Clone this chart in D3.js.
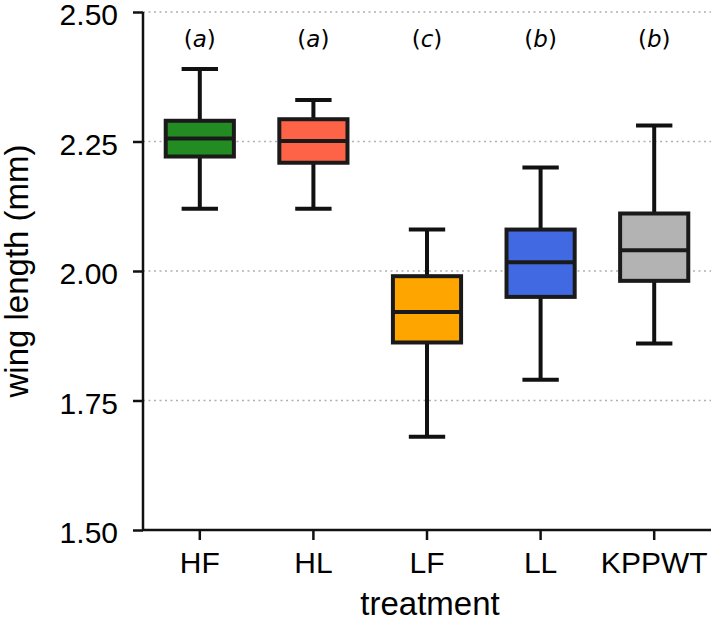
<!DOCTYPE html>
<html>
<head>
<meta charset="utf-8">
<script src="https://cdn.jsdelivr.net/npm/d3@7"></script>
<style>
  body { margin: 0; background: #fff; }
  svg { display: block; }
</style>
</head>
<body>
<div id="plot"></div>
<script>
// data
const treatments = ["HF", "HL", "LF", "LL", "KPPWT"];
const whiskLow  = [2.12, 2.12, 1.68, 1.79, 1.86];
const q1        = [2.221, 2.209, 1.862, 1.950, 1.981];
const medians   = [2.256, 2.251, 1.921, 2.017, 2.040];
const q3        = [2.290, 2.293, 1.990, 2.080, 2.111];
const whiskHigh = [2.39, 2.33, 2.08, 2.20, 2.281];
const groups    = ["a", "a", "c", "b", "b"];
const colors    = ["#228b22", "#ff6347", "#ffa500", "#4169e1", "#b3b3b3"];
const yTicks    = [1.50, 1.75, 2.00, 2.25, 2.50];

const w = 711;
const h = 620;
const margin = {top: 12, right: 0, bottom: 90, left: 143};

const svg = d3.select("#plot")
  .append("svg")
    .attr("width", w)
    .attr("height", h);

const xScale = d3.scaleBand()
    .domain(treatments)
    .range([margin.left, w - margin.right])
    .padding(0);

const yScale = d3.scaleLinear()
    .domain([1.5, 2.5])
    .range([h - margin.bottom, margin.top]);

const bw = xScale.bandwidth();
const boxW = bw * 0.6;
const capW = bw * 0.32;

const boxes = treatments.map((t, i) => ({
  t: t, lo: whiskLow[i], q1: q1[i], med: medians[i], q3: q3[i],
  hi: whiskHigh[i], g: groups[i], color: colors[i]
}));

// grid lines
svg.append("g")
  .selectAll("line")
  .data(yTicks.filter(d => d > 1.5))
  .enter().append("line")
    .attr("x1", margin.left)
    .attr("x2", w)
    .attr("y1", d => yScale(d))
    .attr("y2", d => yScale(d))
    .attr("stroke", "#b0b0b0")
    .attr("stroke-width", 1.6)
    .attr("stroke-dasharray", "2,3.5");

// axes
const yAxis = d3.axisLeft(yScale)
    .tickValues(yTicks)
    .tickFormat(d3.format(".2f"))
    .tickSize(10)
    .tickPadding(15);

const xAxis = d3.axisBottom(xScale)
    .tickSize(10)
    .tickPadding(12);

const yG = svg.append("g")
    .attr("transform", `translate(${margin.left},0)`)
    .call(yAxis);

const xG = svg.append("g")
    .attr("transform", `translate(0,${h - margin.bottom})`)
    .call(xAxis);

[yG, xG].forEach(g => {
  g.select(".domain").attr("stroke", "#111").attr("stroke-width", 2.5);
  g.selectAll(".tick line").attr("stroke", "#111").attr("stroke-width", 2.5);
  g.selectAll(".tick text")
    .attr("fill", "#000")
    .style("font-family", "'Liberation Sans', Arial, sans-serif")
    .style("font-size", "30px");
});
yG.selectAll(".tick text").attr("dy", "0.42em");
// keep the spines flat, no outer ticks
yG.select(".domain").attr("d", `M0,${yScale(2.5)}V${yScale(1.5)}`);
xG.select(".domain").attr("d", `M${margin.left},0H${w}`);

// box plots
const bx = svg.append("g")
  .selectAll("g")
  .data(boxes)
  .enter().append("g")
    .attr("transform", d => `translate(${xScale(d.t) + bw / 2},0)`);

bx.append("line")
    .attr("y1", d => yScale(d.lo))
    .attr("y2", d => yScale(d.q1))
    .attr("stroke", "#111").attr("stroke-width", 4);

bx.append("line")
    .attr("y1", d => yScale(d.q3))
    .attr("y2", d => yScale(d.hi))
    .attr("stroke", "#111").attr("stroke-width", 4);

bx.append("line")
    .attr("x1", -capW / 2).attr("x2", capW / 2)
    .attr("y1", d => yScale(d.lo)).attr("y2", d => yScale(d.lo))
    .attr("stroke", "#111").attr("stroke-width", 4);

bx.append("line")
    .attr("x1", -capW / 2).attr("x2", capW / 2)
    .attr("y1", d => yScale(d.hi)).attr("y2", d => yScale(d.hi))
    .attr("stroke", "#111").attr("stroke-width", 4);

bx.append("rect")
    .attr("x", -boxW / 2)
    .attr("width", boxW)
    .attr("y", d => yScale(d.q3))
    .attr("height", d => yScale(d.q1) - yScale(d.q3))
    .attr("fill", d => d.color)
    .attr("stroke", "#1a1a1a")
    .attr("stroke-width", 4);

bx.append("line")
    .attr("x1", -boxW / 2).attr("x2", boxW / 2)
    .attr("y1", d => yScale(d.med)).attr("y2", d => yScale(d.med))
    .attr("stroke", "#1a1a1a").attr("stroke-width", 4);

// group letters
const lt = bx.append("text")
    .attr("y", 47)
    .attr("text-anchor", "middle")
    .style("font-family", "'DejaVu Sans', sans-serif")
    .style("font-size", "23px")
    .attr("fill", "#000");
lt.append("tspan").text("(");
lt.append("tspan").style("font-style", "italic").text(d => d.g);
lt.append("tspan").text(")");

// axis labels
svg.append("text")
    .attr("x", 430)
    .attr("y", 615)
    .attr("text-anchor", "middle")
    .style("font-family", "'Liberation Sans', Arial, sans-serif")
    .style("font-size", "33px")
    .text("treatment");

svg.append("text")
    .attr("transform", `translate(28,${(yScale(1.5) + yScale(2.5)) / 2}) rotate(-90)`)
    .attr("text-anchor", "middle")
    .style("font-family", "'Liberation Sans', Arial, sans-serif")
    .style("font-size", "33px")
    .text("wing length (mm)");
</script>
</body>
</html>
